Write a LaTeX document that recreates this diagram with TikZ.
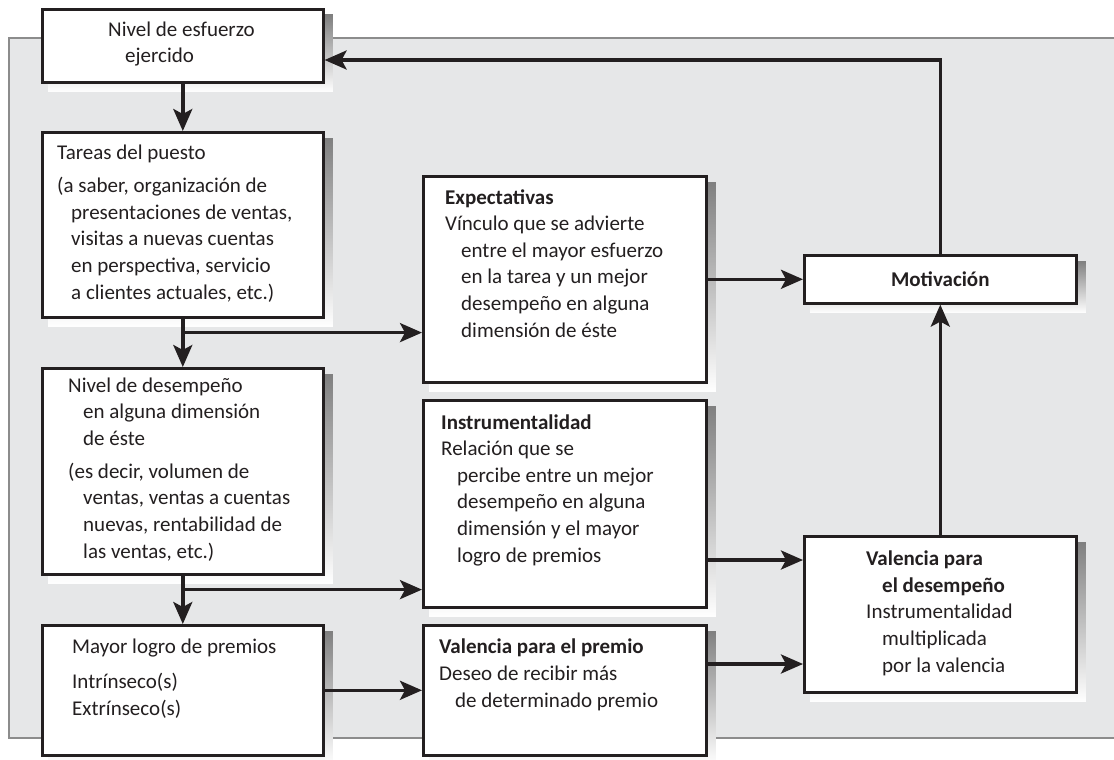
\documentclass[tikz,border=0pt]{standalone}
\usepackage{fontspec}
\setmainfont{Carlito}
\usetikzlibrary{arrows.meta, calc}
\definecolor{panel}{HTML}{E6E7E8}
\definecolor{panelline}{HTML}{8C8C8C}
\definecolor{shade}{HTML}{B9BABD}
\definecolor{ink}{HTML}{231F20}
\pgfdeclarelayer{back}
\pgfdeclarelayer{shadow}
\pgfsetlayers{back,shadow,main}

\begin{document}
\begin{tikzpicture}[x=1pt, y=-1pt, >={Stealth[length=22pt, width=19pt, inset=5pt]},
    box/.style={draw=ink, line width=2.6pt, fill=white, anchor=north west, inner sep=0pt},
    txt/.style={anchor=base west, align=left, inner sep=0pt, text=ink,
        font=\fontsize{21}{26.6}\selectfont},
    flow/.style={->, draw=ink, line width=3.4pt}]
    \useasboundingbox (0,0) rectangle (1114,760);

    % left column
    \node[box, minimum width=281pt, minimum height=73pt] (effort) at (41,8) {};
    \node[box, minimum width=281pt, minimum height=185pt] (tasks) at (41,131) {};
    \node[box, minimum width=281pt, minimum height=206pt] (perf) at (41,367) {};
    \node[box, minimum width=281pt, minimum height=130pt] (rewards) at (41,624) {};

    % middle column
    \node[box, minimum width=283pt, minimum height=206pt] (expect) at (422,175) {};
    \node[box, minimum width=283pt, minimum height=207pt] (instr) at (422,399) {};
    \node[box, minimum width=283pt, minimum height=130pt] (rewval) at (422,624) {};

    % right column
    \node[box, minimum width=272pt, minimum height=48pt] (motiv) at (803,254) {};
    \node[box, minimum width=272pt, minimum height=156pt] (perfval) at (803,535) {};

    % grey panel and drop shadows
    \begin{pgfonlayer}{back}
        \draw[panelline, line width=2pt, fill=panel] (1130,38) -- (9,38) -- (9,738) -- (1130,738);
    \end{pgfonlayer}
    \begin{pgfonlayer}{shadow}
        \foreach \b in {effort,tasks,perf,rewards,expect,instr,rewval,motiv,perfval}
            \fill[shade] ($(\b.north west)+(7pt,-7pt)$) rectangle ($(\b.south east)+(8.3pt,-8.3pt)$);
    \end{pgfonlayer}

    % texts (placed at the baseline of their last line)
    \node[txt] (effort-t) at (108,63) {Nivel de esfuerzo\\\hspace*{17pt}ejercido};
    \node[txt] (tasks-t) at (57,299) {Tareas del puesto\\[6.4pt]
        (a saber, organización de\\
        \hspace*{14pt}presentaciones de ventas,\\
        \hspace*{14pt}visitas a nuevas cuentas\\
        \hspace*{14pt}en perspectiva, servicio\\
        \hspace*{14pt}a clientes actuales, etc.)};
    \node[txt] (perf-t) at (68,558) {Nivel de desempeño\\
        \hspace*{15pt}en alguna dimensión\\
        \hspace*{15pt}de éste\\[6.4pt]
        (es decir, volumen de\\
        \hspace*{15pt}ventas, ventas a cuentas\\
        \hspace*{15pt}nuevas, rentabilidad de\\
        \hspace*{15pt}las ventas, etc.)};
    \node[txt] (rewards-t) at (72,715) {Mayor logro de premios\\[8.4pt]
        Intrínseco(s)\\Extrínseco(s)};
    \node[txt] (expect-t) at (445,337) {\textbf{Expectativas}\\
        Vínculo que se advierte\\
        \hspace*{16pt}entre el mayor esfuerzo\\
        \hspace*{16pt}en la tarea y un mejor\\
        \hspace*{16pt}desempeño en alguna\\
        \hspace*{16pt}dimensión de éste};
    \node[txt] (instr-t) at (441,562) {\textbf{Instrumentalidad}\\
        Relación que se\\
        \hspace*{16pt}percibe entre un mejor\\
        \hspace*{16pt}desempeño en alguna\\
        \hspace*{16pt}dimensión y el mayor\\
        \hspace*{16pt}logro de premios};
    \node[txt] (rewval-t) at (439,707) {\textbf{Valencia para el premio}\\
        Deseo de recibir más\\
        \hspace*{16pt}de determinado premio};
    \node[txt, anchor=center] (motiv-t) at (motiv.center) {\textbf{Motivación}};
    \node[txt] (perfval-t) at (866,672) {\textbf{Valencia para}\\
        \hspace*{16pt}\textbf{el desempeño}\\
        Instrumentalidad\\
        \hspace*{16pt}multiplicada\\
        \hspace*{16pt}por la valencia};

    % connectors
    \coordinate (tsplit) at ($(tasks.south)+(0,14)$);
    \coordinate (psplit) at ($(perf.south)+(0,14)$);
    \coordinate (iout) at ($(instr.north east)+(0,161)$);
    \coordinate (rout) at ($(rewval.north east)+(0,40)$);
    \coordinate (fb) at ($(effort.north east)+(0,52)$);

    \draw[flow] (effort.south) -- (tasks.north);
    \draw[flow] (tasks.south) -- (perf.north);
    \draw[flow] (perf.south) -- (rewards.north);
    \draw[flow] (tsplit) -- (tsplit -| expect.west);
    \draw[flow] (psplit) -- (psplit -| instr.west);
    \draw[flow] (rewards.east) -- (rewval.west);
    \draw[flow] (expect.east) -- (motiv.west);
    \draw[flow] (iout) -- (iout -| perfval.west);
    \draw[flow] (rout) -- (rout -| perfval.west);
    \draw[flow] (perfval.north) -- (motiv.south);
    \draw[flow] (motiv.north) |- (fb);
\end{tikzpicture}
\end{document}
